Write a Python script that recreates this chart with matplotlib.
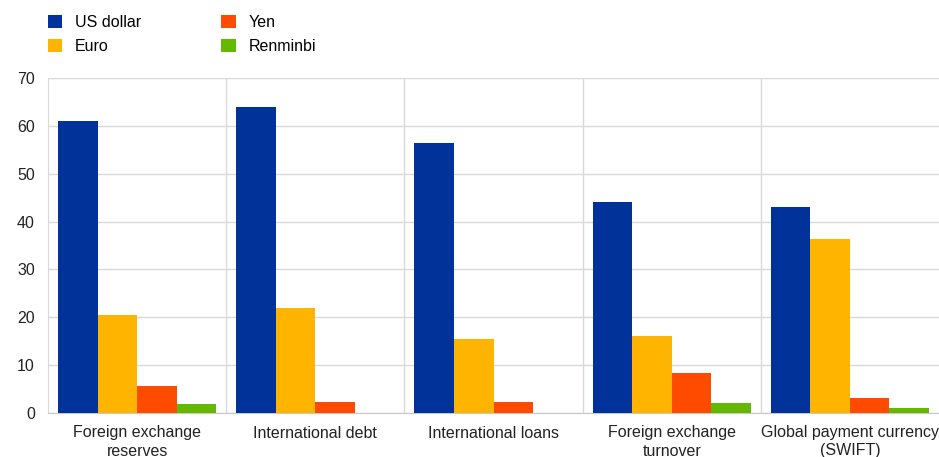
import matplotlib.pyplot as plt
import numpy as np

plt.rcParams["font.family"] = ["Liberation Sans", "DejaVu Sans"]

categories = [
    "Foreign exchange\nreserves",
    "International debt",
    "International loans",
    "Foreign exchange\nturnover",
    "Global payment currency\n(SWIFT)",
]
series_names = ["US dollar", "Euro", "Yen", "Renminbi"]
us_dollar = [61.0, 63.9, 56.5, 44.1, 43.0]
euro = [20.5, 22.0, 15.4, 16.1, 36.3]
yen = [5.6, 2.4, 2.4, 8.4, 3.2]
renminbi = [1.9, 0.0, 0.0, 2.1, 1.1]
yticks = [0, 10, 20, 30, 40, 50, 60, 70]

colors = ["#003299", "#FFB400", "#FF4B00", "#65B800"]

fig = plt.figure(figsize=(9.39, 4.57), dpi=100)
ax = fig.add_axes([48 / 939, 44 / 457, 1 - 48 / 939, 335 / 457])

x = np.arange(len(categories))
width = 0.222
offsets = (np.arange(4) - 1.5) * width
for vals, name, col, off in zip([us_dollar, euro, yen, renminbi], series_names, colors, offsets):
    ax.bar(x + off, vals, width=width, color=col, label=name, zorder=3)

ax.set_xlim(-0.5, len(categories) - 0.5)
ax.set_ylim(0, 70)
ax.set_yticks(yticks)
ax.set_xticks(x)
ax.set_xticklabels(categories, fontsize=11.5, linespacing=1.25)
ax.tick_params(axis="both", length=0, labelsize=11.5, colors="#222222")
ax.tick_params(axis="x", pad=9)
ax.tick_params(axis="y", pad=9.5)

ax.grid(axis="y", color="#d9d9d9", linewidth=1, zorder=0)
for b in np.arange(0.5, len(categories) - 0.5, 1):
    ax.axvline(b, color="#d9d9d9", linewidth=1, zorder=0)

for side in ["top", "right"]:
    ax.spines[side].set_visible(False)
ax.spines["left"].set_color("#d9d9d9")
ax.spines["bottom"].set_color("#c8c8c8")

fig.legend(
    loc="upper left",
    bbox_to_anchor=(48 / 939, 1 - 15 / 457),
    ncol=2,
    frameon=False,
    fontsize=11.5,
    borderpad=0,
    borderaxespad=0,
    handlelength=0.9,
    handleheight=0.9,
    handletextpad=0.8,
    columnspacing=5.0,
    labelspacing=0.55,
)

fig.savefig("out.png", dpi=100)
